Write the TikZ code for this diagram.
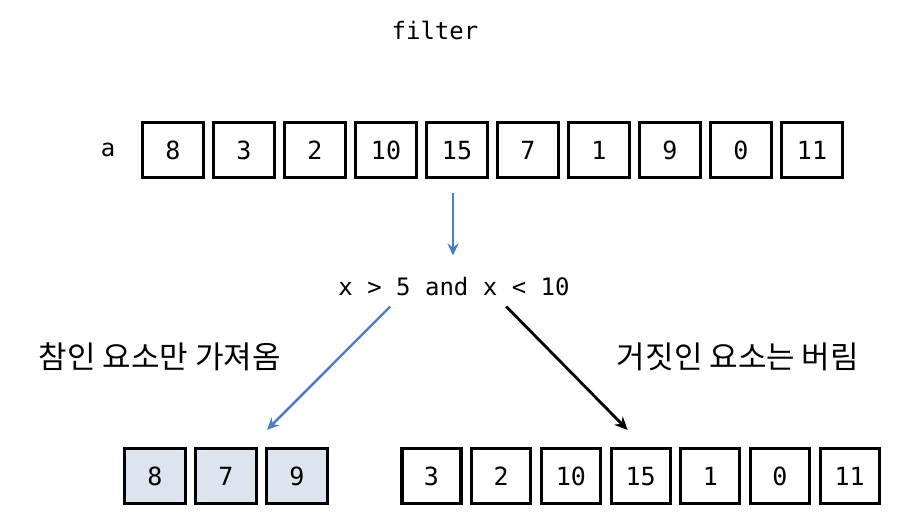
\documentclass[tikz,border=0pt]{standalone}
\usepackage{fontspec}
\setmonofont{DejaVu Sans Mono}
\newfontfamily\krfont{Noto Sans CJK KR}
\usetikzlibrary{arrows.meta,calc}
\definecolor{arrblue}{HTML}{4A7EBF}
\definecolor{cellfill}{HTML}{DDE4EF}
\tikzset{
  cell/.style={draw=black,line width=3.2pt,minimum width=61pt,minimum height=55pt,inner sep=0pt,text height=18pt,text depth=0pt,font=\ttfamily\fontsize{25}{28}\selectfont},
  cellr/.style={cell,minimum width=59pt},
  picked/.style={cell,fill=cellfill},
  lbl/.style={font=\ttfamily\fontsize{24}{28}\selectfont,inner sep=0pt},
  krlbl/.style={font=\krfont\fontsize{31}{34}\selectfont,inner sep=0pt},
  bluearr/.style={draw=arrblue,line width=2.4pt,-{Stealth[length=12pt,width=11pt]}},
  blackarr/.style={draw=black,line width=2.8pt,-{Stealth[length=13pt,width=12pt]}}
}
\begin{document}
\begin{tikzpicture}[x=1pt,y=-1pt]
\useasboundingbox (0,0) rectangle (922,531);
\node[lbl] (title) at (435,30) {filter};
\node[lbl] (a) at (108,150) {a};
\foreach \v [count=\i] in {8,3,2,10,15,7,1,9,0,11}{
  \node[cell] (t\i) at ({173+71*(\i-1)},150) {\v};
}
\node[lbl] (cond) at (454,287) {x > 5 and x < 10};
\node[krlbl] (yes) at (160,357) {참인 요소만 가져옴};
\node[krlbl] (no) at (738,357) {거짓인 요소는 버림};
\foreach \v [count=\i] in {8,7,9}{
  \node[picked] (l\i) at ({155+71*(\i-1)},476) {\v};
}
\foreach \v [count=\i] in {3,2,10,15,1,0,11}{
  \node[cellr] (r\i) at ({431.5+69.7*(\i-1)},476) {\v};
}
\draw[bluearr] ($(t5.south)+(-4,14)$) -- ($(cond.north)+(-1,-22)$);
\draw[bluearr] ($(cond.south west)+(52,10)$) -- ($(l3.north)+(-30,-17)$);
\draw[blackarr] ($(cond.south west)+(168,10)$) -- ($(r4.north)+(-13,-17)$);
\end{tikzpicture}
\end{document}
